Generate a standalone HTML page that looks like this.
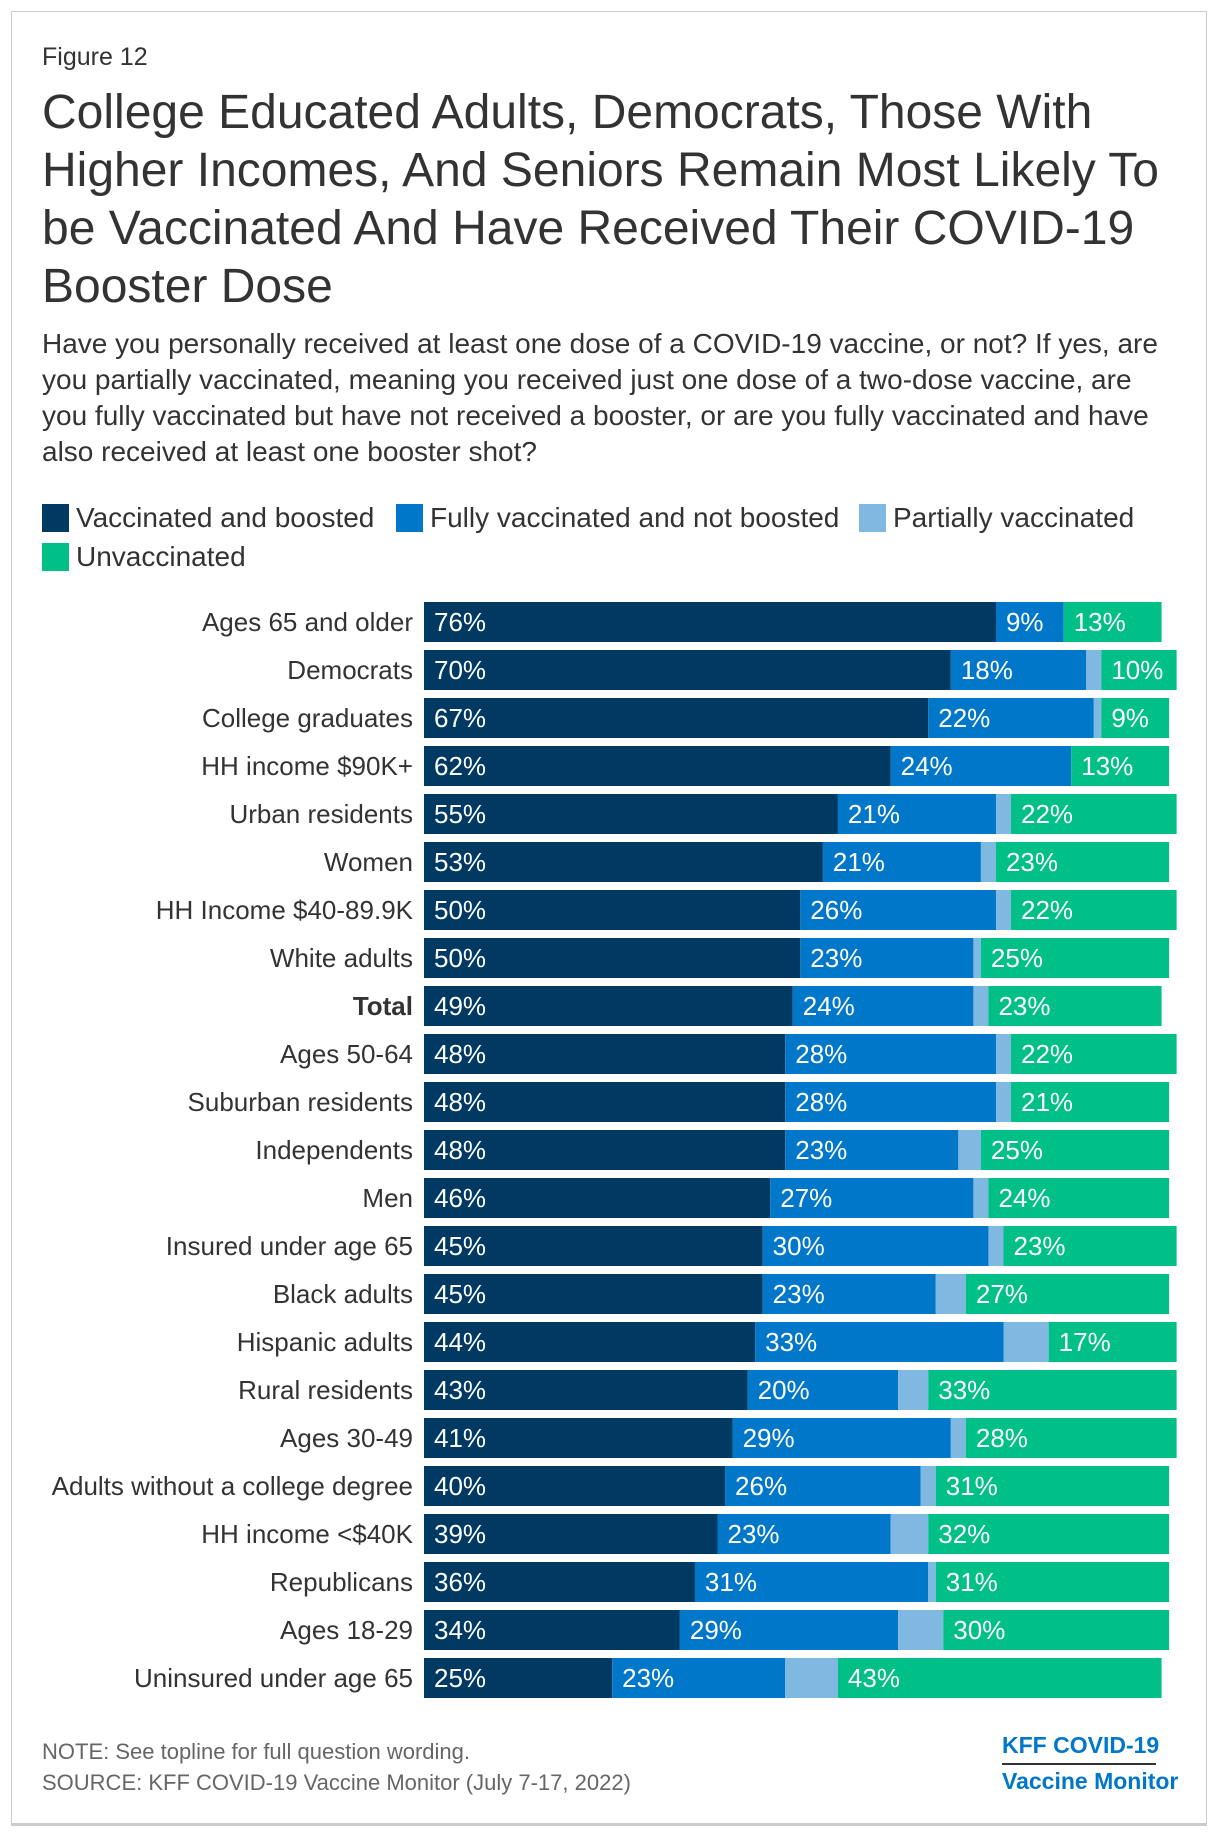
<!DOCTYPE html>
<html><head><meta charset="utf-8">
<style>
html,body{margin:0;padding:0;background:#fff;}
body{width:1220px;height:1840px;position:relative;font-family:"Liberation Sans",Arial,sans-serif;overflow:hidden;}
#frame{position:absolute;left:11px;top:11px;width:1196px;height:1815px;border:1px solid #ccc;border-bottom:3px solid #ccc;box-sizing:border-box;}
.abs{position:absolute;white-space:nowrap;}
#fig{left:42px;top:43px;font-size:25px;color:#333;}
#title{left:42px;top:84px;font-size:48px;line-height:58px;color:#333;}
#sub{left:42px;top:326px;font-size:28px;line-height:36px;color:#333;}
.leg{position:absolute;font-size:28px;color:#333;height:30px;line-height:30px;}
.sw{position:absolute;left:0;top:1px;width:27px;height:28px;}
.leg span.t{position:absolute;left:34px;top:0;white-space:nowrap;}
.foot{position:absolute;left:42px;font-size:22px;color:#666;white-space:nowrap;}
.logo{position:absolute;left:1002px;font-weight:bold;color:#0077c8;font-size:23px;white-space:nowrap;}
</style></head><body>
<div id="frame"></div>
<div class="abs" id="fig">Figure 12</div>
<div class="abs" id="title">College Educated Adults, Democrats, Those With<br>Higher Incomes, And Seniors Remain Most Likely To<br>be Vaccinated And Have Received Their COVID-19<br>Booster Dose</div>
<div class="abs" id="sub">Have you personally received at least one dose of a COVID-19 vaccine, or not? If yes, are<br>you partially vaccinated, meaning you received just one dose of a two-dose vaccine, are<br>you fully vaccinated but have not received a booster, or are you fully vaccinated and have<br>also received at least one booster shot?</div>

<div class="leg" style="left:42px;top:503px;"><div class="sw" style="background:#003a63"></div><span class="t">Vaccinated and boosted</span></div>
<div class="leg" style="left:396px;top:503px;"><div class="sw" style="background:#0077c8"></div><span class="t">Fully vaccinated and not boosted</span></div>
<div class="leg" style="left:859px;top:503px;"><div class="sw" style="background:#7fb8e1"></div><span class="t">Partially vaccinated</span></div>
<div class="leg" style="left:42px;top:542px;"><div class="sw" style="background:#00bf87"></div><span class="t">Unvaccinated</span></div>

<svg id="chart" style="position:absolute;left:0;top:0" width="1220" height="1840"></svg>

<div class="foot" style="top:1739px;">NOTE: See topline for full question wording.</div>
<div class="foot" style="top:1770px;">SOURCE: KFF COVID-19 Vaccine Monitor (July 7-17, 2022)</div>
<div class="logo" style="top:1732px;">KFF COVID-19</div>
<div style="position:absolute;left:1002px;top:1763px;width:154px;height:2px;background:#333;"></div>
<div class="logo" style="top:1768px;">Vaccine Monitor</div>

<script>
const categories = ["Ages 65 and older","Democrats","College graduates","HH income $90K+","Urban residents","Women","HH Income $40-89.9K","White adults","Total","Ages 50-64","Suburban residents","Independents","Men","Insured under age 65","Black adults","Hispanic adults","Rural residents","Ages 30-49","Adults without a college degree","HH income <$40K","Republicans","Ages 18-29","Uninsured under age 65"];
const boosted = [76,70,67,62,55,53,50,50,49,48,48,48,46,45,45,44,43,41,40,39,36,34,25];
const fully = [9,18,22,24,21,21,26,23,24,28,28,23,27,30,23,33,20,29,26,23,31,29,23];
const partial = [0,2,1,0,2,2,2,1,2,2,2,3,2,2,4,6,4,2,2,5,1,6,7];
const unvaccinated = [13,10,9,13,22,23,22,25,23,22,21,25,24,23,27,17,33,28,31,32,31,30,43];

const NS = "http://www.w3.org/2000/svg";
const svg = document.getElementById('chart');
const x0 = 424, pxPer = 7.526, y0 = 602, pitch = 48, barH = 40;
function xScale(v){ return v * pxPer; }
function yPos(i){ return y0 + i * pitch; }
const series = [
  {vals: boosted, color:'#003a63', name:'boosted'},
  {vals: fully, color:'#0077c8', name:'fully'},
  {vals: partial, color:'#7fb8e1', name:'partial'},
  {vals: unvaccinated, color:'#00bf87', name:'unvaccinated'}
];
categories.forEach((c, i) => {
  const y = yPos(i);
  const lab = document.createElementNS(NS, 'text');
  
  
  lab.setAttribute('x', 413);
  lab.setAttribute('y', y + barH/2 + 9);
  lab.setAttribute('text-anchor', 'end');
  lab.setAttribute('font-size', '26');
  lab.setAttribute('fill', '#333');
  lab.setAttribute('font-family', '"Liberation Sans", Arial, sans-serif');
  if (c === 'Total') lab.setAttribute('font-weight', 'bold');
  lab.textContent = c;
  svg.appendChild(lab);
  let acc = 0;
  series.forEach(s => {
    const v = s.vals[i];
    const r = document.createElementNS(NS, 'rect');
    
    
    r.setAttribute('x', x0 + xScale(acc));
    r.setAttribute('y', y);
    r.setAttribute('width', xScale(v));
    r.setAttribute('height', barH);
    r.setAttribute('fill', s.color);
    svg.appendChild(r);
    if (v >= 5 && s.name !== 'partial') {
      const t = document.createElementNS(NS, 'text');
      
      
      t.setAttribute('x', x0 + xScale(acc) + 10);
      t.setAttribute('y', y + barH/2 + 9);
      t.setAttribute('font-size', '26');
      t.setAttribute('fill', '#fff');
      t.setAttribute('font-family', '"Liberation Sans", Arial, sans-serif');
      t.textContent = v + '%';
      svg.appendChild(t);
    }
    acc += v;
  });
});
</script>
</body></html>
